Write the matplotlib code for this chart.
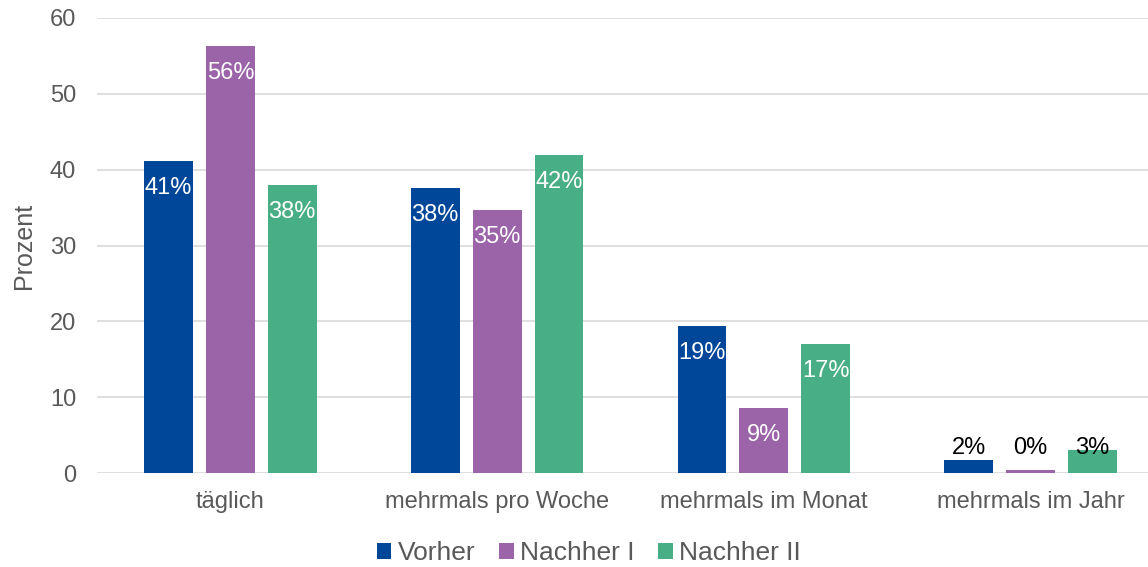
import matplotlib.pyplot as plt
import numpy as np

plt.rcParams['font.family'] = ['Liberation Sans', 'DejaVu Sans']

categories = ["täglich", "mehrmals pro Woche", "mehrmals im Monat", "mehrmals im Jahr"]
series = ["Vorher", "Nachher I", "Nachher II"]
vorher = [41.1, 37.6, 19.4, 1.7]
nachher1 = [56.3, 34.7, 8.6, 0.4]
nachher2 = [38.0, 41.9, 17.0, 3.0]
labels = [["41%", "38%", "19%", "2%"],
          ["56%", "35%", "9%", "0%"],
          ["38%", "42%", "17%", "3%"]]
colors = ["#00479A", "#9B63A8", "#48AE85"]

fig = plt.figure(figsize=(11.48, 5.67), dpi=100)
ax = fig.add_axes([97/1148, 1 - 473/567, 1 - 97/1148, 455/567])

x = np.arange(len(categories))
w = 0.1835
step = 0.232
grey = "#595959"

for i, vals in enumerate([vorher, nachher1, nachher2]):
    pos = x + (i - 1) * step
    ax.bar(pos, vals, width=w, color=colors[i], label=series[i], zorder=3)
    for p, v, t in zip(pos, vals, labels[i]):
        if v > 5:
            ax.annotate(t, (p, v), xytext=(0, -27), textcoords="offset pixels",
                        ha="center", va="center", color="white", fontsize=17, zorder=4)
        else:
            # small bars: labels sit on a common line just above the axis
            ax.annotate(t, (p, 0), xytext=(0, 25), textcoords="offset pixels",
                        ha="center", va="center", color="black", fontsize=17, zorder=4)

ax.set_xlim(-0.5, 3.44)
ax.set_ylim(0, 60)
ax.set_yticks(range(0, 61, 10))
ax.set_xticks(x)
ax.set_xticklabels(categories)
ax.grid(axis="y", color="#D9D9D9", linewidth=1.2, zorder=0)
for s in ax.spines.values():
    s.set_visible(False)
ax.tick_params(axis="both", length=0, labelsize=17, colors=grey)
ax.tick_params(axis="y", pad=15)
ax.tick_params(axis="x", pad=13)
ax.set_ylabel("Prozent", fontsize=18, color=grey)
ax.yaxis.set_label_coords(-0.058, 0.5)

ax.legend(loc="center", bbox_to_anchor=(0.468, -0.176), ncol=3, frameon=False,
          fontsize=19, handlelength=0.55, handleheight=0.55, handletextpad=0.25,
          columnspacing=0.9, labelcolor=grey)

fig.savefig("out.png", dpi=100)
